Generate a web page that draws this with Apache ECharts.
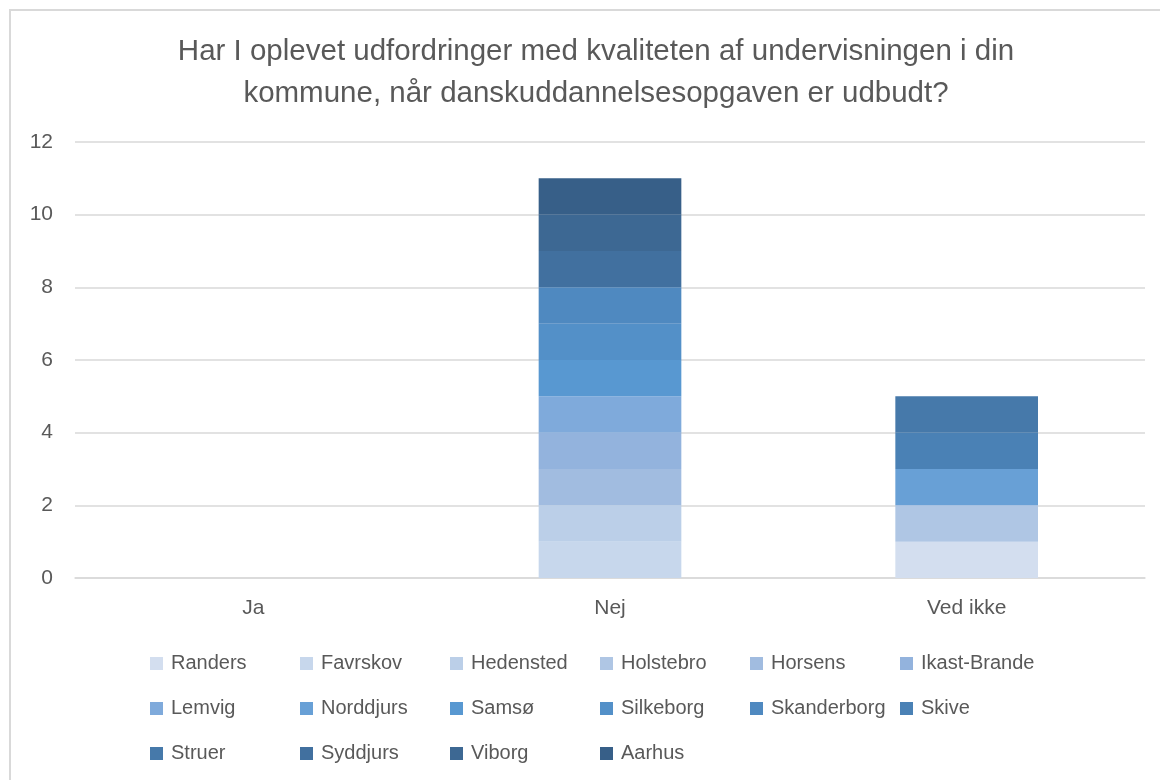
<!DOCTYPE html>
<html>
<head>
<meta charset="utf-8">
<script src="https://cdn.jsdelivr.net/npm/echarts@6/dist/echarts.min.js"></script>
<style>
  html, body { margin: 0; padding: 0; background: #fff; }
  #chart { width: 1160px; height: 780px; }
</style>
</head>
<body>
<div id="chart"></div>
<script>
const categories = ['Ja', 'Nej', 'Ved ikke'];

const municipalities = [
  'Randers', 'Favrskov', 'Hedensted', 'Holstebro', 'Horsens', 'Ikast-Brande',
  'Lemvig', 'Norddjurs', 'Samsø', 'Silkeborg', 'Skanderborg', 'Skive',
  'Struer', 'Syddjurs', 'Viborg', 'Aarhus'
];

// count per answer (Ja, Nej, Ved ikke) for each municipality
const answers = [
  [0, 0, 1], // Randers
  [0, 1, 0], // Favrskov
  [0, 1, 0], // Hedensted
  [0, 0, 1], // Holstebro
  [0, 1, 0], // Horsens
  [0, 1, 0], // Ikast-Brande
  [0, 1, 0], // Lemvig
  [0, 0, 1], // Norddjurs
  [0, 1, 0], // Samsø
  [0, 1, 0], // Silkeborg
  [0, 1, 0], // Skanderborg
  [0, 0, 1], // Skive
  [0, 0, 1], // Struer
  [0, 1, 0], // Syddjurs
  [0, 1, 0], // Viborg
  [0, 1, 0]  // Aarhus
];

const colors = [
  '#d3deef', '#c7d7ec', '#bbcfe8', '#afc6e4', '#a1bce0', '#93b3dd',
  '#7faadb', '#68a0d6', '#5898d1', '#5390c8', '#4f89c0', '#4a81b5',
  '#4679aa', '#41709f', '#3d6893', '#375f88'
];

const yTicks = { min: 0, max: 12, interval: 2 };

const textColor = '#595959';
const font = 'Liberation Sans';

const chart = echarts.init(document.getElementById('chart'));

const series = municipalities.map((name, i) => ({
  name: name,
  type: 'bar',
  stack: 'total',
  barWidth: '40%',
  itemStyle: { color: colors[i] },
  emphasis: { disabled: true },
  data: answers[i]
}));

chart.setOption({
  animation: false,
  backgroundColor: '#fff',
  color: colors,
  title: {
    text: 'Har I oplevet udfordringer med kvaliteten af undervisningen i din\nkommune, når danskuddannelsesopgaven er udbudt?',
    left: 591,
    textAlign: 'center',
    top: 26,
    textStyle: {
      color: textColor,
      fontFamily: font,
      fontWeight: 'normal',
      fontSize: 29.5,
      lineHeight: 42
    }
  },
  graphic: [{
    type: 'polyline',
    shape: { points: [[10, 780], [10, 10], [1160, 10]] },
    style: { stroke: '#d9d9d9', lineWidth: 2, fill: null },
    silent: true
  }],
  grid: { left: 75, right: 15, top: 142, bottom: 202, containLabel: false },
  xAxis: {
    type: 'category',
    data: categories,
    axisLine: { lineStyle: { color: '#d9d9d9', width: 1.5 } },
    axisTick: { show: false },
    axisLabel: { color: textColor, fontFamily: font, fontSize: 21, margin: 20 }
  },
  yAxis: {
    type: 'value',
    min: yTicks.min,
    max: yTicks.max,
    interval: yTicks.interval,
    axisLine: { show: false },
    axisTick: { show: false },
    axisLabel: { color: textColor, fontFamily: font, fontSize: 21, margin: 22 },
    splitLine: { lineStyle: { color: '#d9d9d9', width: 1.5 } }
  },
  legend: {
    left: 145,
    top: 640,
    width: 900,
    itemWidth: 13,
    itemHeight: 13,
    itemGap: 8,
    icon: 'rect',
    textStyle: {
      color: textColor,
      fontFamily: font,
      fontSize: 20,
      width: 121,
      padding: [0, 0, 0, 3],
      overflow: 'truncate',
      lineHeight: 37
    },
    data: municipalities
  },
  series: series
});
</script>
</body>
</html>
